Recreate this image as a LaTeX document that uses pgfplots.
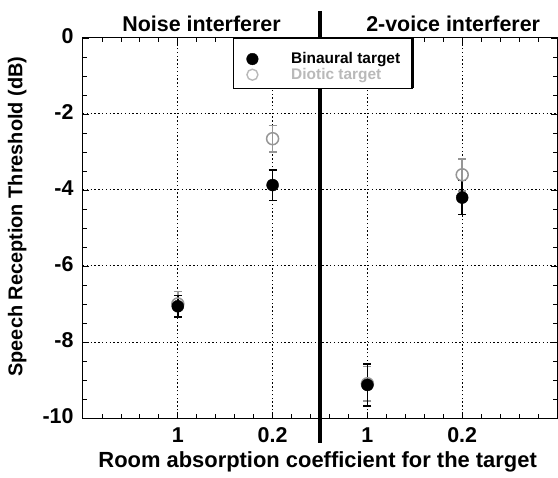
\documentclass[border=0pt]{standalone}
\usepackage{fontspec}
\setmainfont{Liberation Sans}
\usepackage{pgfplots}
\pgfplotsset{compat=1.18}

\definecolor{dioticgray}{RGB}{150,150,150}
\definecolor{legendgray}{RGB}{185,185,185}

\begin{document}
\begin{tikzpicture}
\begin{axis}[
    scale only axis,
    width=474bp, height=380bp,
    xmin=0, xmax=5, ymin=-10, ymax=0,
    xtick={1,2,3,4}, xticklabels={1,0.2,1,0.2},
    ytick={-10,-8,-6,-4,-2,0},
    minor xtick={0.2,0.4,...,4.8},
    minor ytick={-9.5,-9,...,-0.5},
    tick align=inside,
    major tick length=6bp, minor tick length=4bp,
    tick style={black, line width=0.8bp},
    axis line style={line width=1bp},
    grid=major,
    major grid style={black, line width=1bp, dash pattern=on 1.4bp off 2.4bp},
    /pgf/number format/assume math mode=true,
    tick label style={font=\fontsize{21.5}{24}\selectfont\bfseries},
    xticklabel style={yshift=-6bp},
    yticklabel style={xshift=-6bp, yshift=1.5bp},
    xlabel={Room absorption coefficient for the target},
    xlabel style={font=\fontsize{22}{26}\selectfont\bfseries,
        at={(axis description cs:0.495,0)}, anchor=base, yshift=-49bp},
    ylabel={Speech Reception Threshold (dB)},
    ylabel style={font=\fontsize{20}{24}\selectfont\bfseries,
        at={(axis description cs:-0.139,0.53)}, anchor=center},
    clip=false,
    legend style={at={(axis cs:1.724,0)}, anchor=north west, yshift=-14.5bp,
        draw=none, fill=none, inner sep=0bp,
        font=\fontsize{15.5}{17}\selectfont\bfseries,
        nodes={inner sep=0bp}, row sep=3bp},
    legend cell align=left,
    legend image code/.code={\draw[#1] plot coordinates {(0bp,0bp)};},
]
\addlegendimage{only marks, mark=*, black, mark size=5.8bp}
\addlegendentry{\hspace*{33bp}Binaural target}
\addlegendimage{only marks, mark=o, legendgray, mark size=5.5bp, line width=1.4bp}
\addlegendentry{\hspace*{33bp}\textcolor{legendgray}{Diotic target}}

% diotic target
\addplot[forget plot, only marks, mark=o, dioticgray, mark size=6bp,
    mark options={line width=1.5bp},
    error bars/.cd, y dir=both, y explicit,
    error bar style={line width=1.5bp, dioticgray},
    error mark options={rotate=90, mark size=4bp, line width=1.5bp, dioticgray}]
    coordinates {
    (1,-7.00) +- (0,0.33)
    (2,-2.65) +- (0,0.35)
    (3,-9.10) +- (0,0.45)
    (4,-3.60) +- (0,0.42)
};
% binaural target
\addplot[forget plot, only marks, mark=*, black, mark size=6bp,
    error bars/.cd, y dir=both, y explicit,
    error bar style={line width=1.5bp, black},
    error mark options={rotate=90, mark size=4bp, line width=1.5bp, black}]
    coordinates {
    (1,-7.06) +- (0,0.28)
    (2,-3.87) +- (0,0.40)
    (3,-9.13) +- (0,0.55)
    (4,-4.20) +- (0,0.45)
};

% divider between the two interferer conditions
\draw[line width=3.5bp] ([yshift=27bp]axis cs:2.5,0) -- ([yshift=-25bp]axis cs:2.5,-10);
% legend frame (white, covers grid and divider)
\draw[fill=white, line width=0.8bp] (axis cs:1.59,0) rectangle (axis cs:3.474,-1.316);
\draw[line width=2.5bp] (axis cs:3.474,0) -- (axis cs:3.474,-1.316);
\node[anchor=base, font=\fontsize{21.5}{26}\selectfont\bfseries]
    at ([yshift=6bp]axis cs:1.25,0) {Noise interferer};
\node[anchor=base, font=\fontsize{21.5}{26}\selectfont\bfseries]
    at ([yshift=6bp]axis cs:3.905,0) {2-voice interferer};
\end{axis}
\pgfresetboundingbox
\useasboundingbox (current axis.south west) ++(-83bp,-60bp) rectangle ([shift={(1bp,38bp)}]current axis.north east);
\end{tikzpicture}
\end{document}
